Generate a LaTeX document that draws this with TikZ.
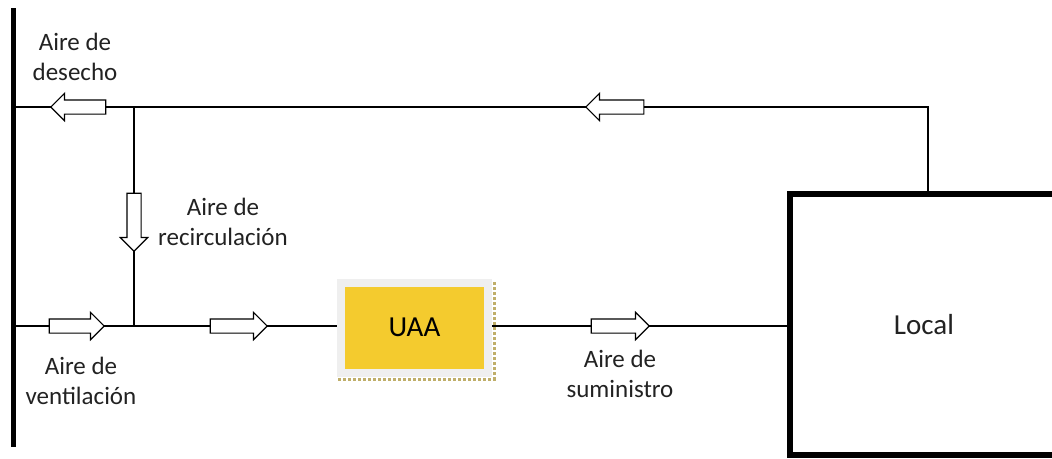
\documentclass[tikz,border=0pt]{standalone}
\usepackage{fontspec}
\setmainfont{Carlito}
\usetikzlibrary{shapes.arrows}
\definecolor{uaayellow}{HTML}{F4CB2E}
\definecolor{uaagrey}{HTML}{EFEFEF}
\definecolor{shadowtan}{HTML}{BFAE6A}
\definecolor{labelgrey}{HTML}{222222}
\begin{document}
\begin{tikzpicture}[
  x = 1pt, y = -1pt,
  line width = 1.5pt,
  flow/.style = {
    shape = single arrow,
    draw = black,
    fill = white,
    line width = 1.2pt,
    inner xsep = 0pt,
    inner ysep = 6.5pt,
    single arrow head extend = 6.5pt,
    single arrow tip angle = 90,
    anchor = tip,
  },
  label/.style = {
    align = center,
    text = labelgrey,
    font = \fontsize{25}{30}\selectfont,
  }
]
  \useasboundingbox (0, 0) rectangle (1052, 458);
  \clip (0, 0) rectangle (1052, 458);

  % wall and room
  \draw[line width = 5pt] (13, 8) -- (13, 447);
  \draw node[draw, line width = 6pt, minimum width = 268pt, minimum height = 261pt,
    font = \fontsize{29}{34}\selectfont, text = labelgrey] (local) at (924, 324.5) {Local};

  % air handling unit
  \draw[shadowtan, dotted, line width = 3pt] (338, 379) -- (494, 379) -- (494, 282);
  \draw node[fill = uaayellow, draw = uaagrey, line width = 8pt, minimum width = 147pt,
    minimum height = 90pt, font = \fontsize{29}{34}\selectfont] (uaa) at (414.5, 327.5) {UAA};

  % duct points
  \coordinate (wDes) at (13, 107);
  \coordinate (wVen) at (13, 326);
  \coordinate (jTop) at (134, 107);
  \coordinate (jBot) at (134, 326);
  \coordinate (cTop) at (928, 107);
  \coordinate (lTop) at (928 ,191);

  \draw (wDes) -- (jTop) -- (cTop) -- (lTop);
  \draw (jTop) -- (jBot);
  \draw (wVen) -- (jBot) -- (uaa.west |- jBot);
  \draw (uaa.east |- jBot) -- (local.west |- jBot);

  % flow arrows
  \draw node[flow, rotate = 180, minimum height = 55pt] (aDes) at (50, 107) {};
  \draw node[flow, rotate = 180, minimum height = 58pt] (aRet) at (585, 107) {};
  \draw node[flow, rotate = -90, minimum height = 58pt] (aRec) at (134, 252) {};
  \draw node[flow, minimum height = 55pt] (aVen) at (105, 326) {};
  \draw node[flow, minimum height = 57pt] (aMix) at (268, 326) {};
  \draw node[flow, minimum height = 58pt] (aSum) at (650, 326) {};

  % labels
  \draw node[label] (tDes) at (75, 57) {Aire de\\desecho};
  \draw node[label] (tRec) at (223, 222) {Aire de\\recirculación};
  \draw node[label] (tVen) at (81, 381) {Aire de\\ventilación};
  \draw node[label] (tSum) at (620, 374) {Aire de\\suministro};
\end{tikzpicture}
\end{document}
